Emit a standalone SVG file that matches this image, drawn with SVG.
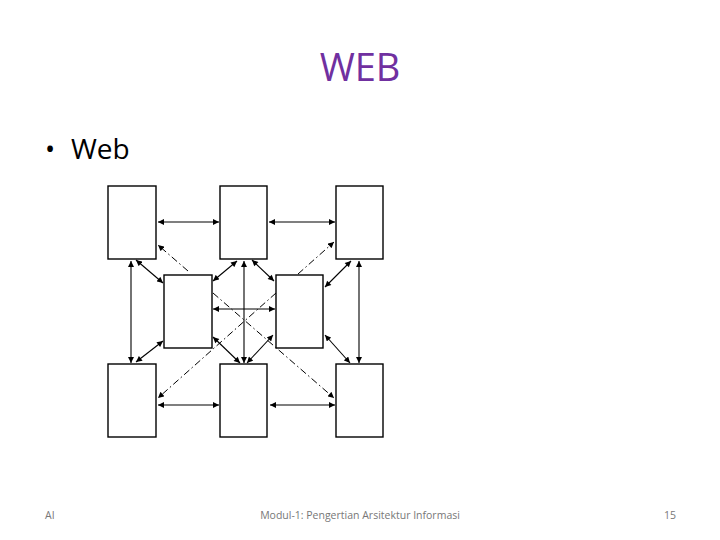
<svg xmlns="http://www.w3.org/2000/svg" width="720" height="540" viewBox="0 0 720 540">
<style>
.box{fill:#fff;stroke:#000;stroke-width:1.4}
.c{stroke:#000;stroke-width:1.1;fill:none}
.d{stroke:#000;stroke-width:1;fill:none;stroke-dasharray:7 3 1.5 3}
.t{font-family:"Open Sans","Liberation Sans",sans-serif}
.f{font-family:"Open Sans","Liberation Sans",sans-serif;font-size:10.5px;fill:#777}
</style>
<defs>
<marker id="ah" viewBox="0 0 10 10" refX="10" refY="5" markerWidth="7" markerHeight="6" markerUnits="userSpaceOnUse" orient="auto-start-reverse">
<path d="M0,0 L10,5 L0,10 z" fill="#000"/>
</marker>
</defs>
<rect width="720" height="540" fill="#fff"/>
<text class="t" x="360" y="81" text-anchor="middle" font-size="38" fill="#7030A0">WEB</text>
<text class="t" x="45" y="159" font-size="27" fill="#000">•</text>
<text class="t" x="71" y="159" font-size="28" fill="#000">Web</text>
<g id="connectors">
<line class="c" x1="158" y1="222" x2="219" y2="222" marker-start="url(#ah)" marker-end="url(#ah)"/>
<line class="c" x1="269" y1="222" x2="335" y2="222" marker-start="url(#ah)" marker-end="url(#ah)"/>
<line class="c" x1="158" y1="405" x2="219" y2="405" marker-start="url(#ah)" marker-end="url(#ah)"/>
<line class="c" x1="270" y1="405" x2="335" y2="405" marker-start="url(#ah)" marker-end="url(#ah)"/>
<line class="c" x1="131" y1="261" x2="131" y2="363" marker-start="url(#ah)" marker-end="url(#ah)"/>
<line class="c" x1="359" y1="261" x2="359" y2="363" marker-start="url(#ah)" marker-end="url(#ah)"/>
<line class="c" x1="244" y1="261" x2="244" y2="363" marker-start="url(#ah)" marker-end="url(#ah)"/>
<line class="c" x1="213" y1="309" x2="275" y2="309" marker-start="url(#ah)" marker-end="url(#ah)"/>
<line class="c" x1="136" y1="260" x2="163" y2="283" marker-start="url(#ah)" marker-end="url(#ah)"/>
<line class="c" x1="237" y1="261" x2="213" y2="281" marker-start="url(#ah)" marker-end="url(#ah)"/>
<line class="c" x1="252" y1="260" x2="274" y2="281" marker-start="url(#ah)" marker-end="url(#ah)"/>
<line class="c" x1="351" y1="261" x2="325" y2="287" marker-start="url(#ah)" marker-end="url(#ah)"/>
<line class="c" x1="163" y1="341" x2="136" y2="362" marker-start="url(#ah)" marker-end="url(#ah)"/>
<line class="c" x1="213" y1="337" x2="240" y2="363" marker-start="url(#ah)" marker-end="url(#ah)"/>
<line class="c" x1="273" y1="335" x2="247" y2="363" marker-start="url(#ah)" marker-end="url(#ah)"/>
<line class="c" x1="325" y1="335" x2="350" y2="363" marker-start="url(#ah)" marker-end="url(#ah)"/>
<line class="d" x1="188" y1="271" x2="158" y2="245" marker-end="url(#ah)"/>
<line class="d" x1="298" y1="274" x2="334" y2="242" marker-end="url(#ah)"/>
<line class="d" x1="213" y1="293" x2="334" y2="398" marker-end="url(#ah)"/>
<line class="d" x1="276" y1="293" x2="158" y2="398" marker-end="url(#ah)"/>
</g>
<g id="n1"><rect class="box" x="108" y="186" width="48" height="73"/></g>
<g id="n2"><rect class="box" x="220" y="186" width="47" height="73"/></g>
<g id="n3"><rect class="box" x="336" y="186" width="47" height="73"/></g>
<g id="n4"><rect class="box" x="164" y="275" width="48" height="73"/></g>
<g id="n5"><rect class="box" x="276" y="275" width="47" height="73"/></g>
<g id="n6"><rect class="box" x="108" y="364" width="48" height="73"/></g>
<g id="n7"><rect class="box" x="220" y="364" width="47" height="73"/></g>
<g id="n8"><rect class="box" x="336" y="364" width="47" height="73"/></g>
<text class="f" x="45" y="519">AI</text>
<text class="f" x="360" y="519" text-anchor="middle">Modul-1: Pengertian Arsitektur Informasi</text>
<text class="f" x="676" y="519" text-anchor="end">15</text>
</svg>
